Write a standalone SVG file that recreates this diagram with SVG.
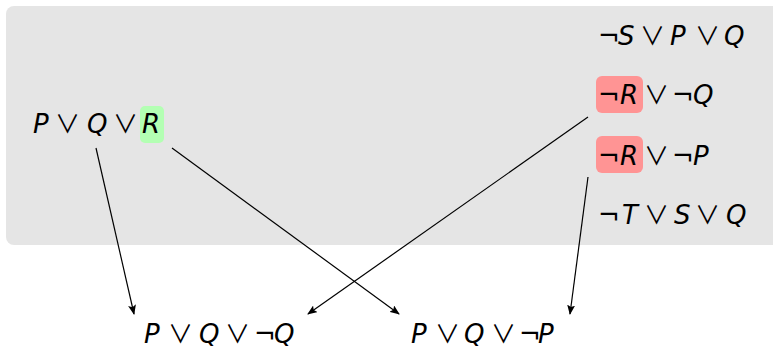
<svg xmlns="http://www.w3.org/2000/svg" width="773" height="349" viewBox="0 0 773 349">
<style>
text{font-family:"DejaVu Sans","Liberation Sans",sans-serif;font-size:26px;fill:#000}
.v{font-style:italic}
.o{font-family:"Noto Sans CJK JP","DejaVu Sans",sans-serif;font-size:25px}
.edge{stroke:#000;stroke-width:1.2;fill:none;marker-end:url(#ah)}
</style>
<defs>
<marker id="ah" markerWidth="10" markerHeight="8" refX="9" refY="4" orient="auto" markerUnits="userSpaceOnUse">
<path d="M0,0 L10,4 L0,8 L2,4 Z" fill="#000"/>
</marker>
</defs>
<rect x="6" y="6" width="790" height="239" rx="8" fill="#e5e5e5"/>
<g id="c1">
<rect x="140" y="106" width="24" height="37" rx="5" fill="#b3ffb3"/>
<text y="133"><tspan class="v" x="33">P</tspan><tspan class="o" x="55">∨</tspan><tspan class="v" x="87">Q</tspan><tspan class="o" x="113">∨</tspan><tspan class="v" x="142">R</tspan></text>
</g>
<g id="c2">
<text y="45"><tspan x="598">¬</tspan><tspan class="v" x="618">S</tspan><tspan class="o" x="640">∨</tspan><tspan class="v" x="670">P</tspan><tspan class="o" x="695">∨</tspan><tspan class="v" x="724">Q</tspan></text>
</g>
<g id="c3">
<rect x="596" y="76" width="47" height="37" rx="6" fill="#ff9494"/>
<text y="104"><tspan x="598">¬</tspan><tspan class="v" x="620">R</tspan><tspan class="o" x="644">∨</tspan><tspan x="672">¬</tspan><tspan class="v" x="693">Q</tspan></text>
</g>
<g id="c4">
<rect x="596" y="136" width="47" height="37" rx="6" fill="#ff9494"/>
<text y="165"><tspan x="598">¬</tspan><tspan class="v" x="620">R</tspan><tspan class="o" x="644">∨</tspan><tspan x="672">¬</tspan><tspan class="v" x="693">P</tspan></text>
</g>
<g id="c5">
<text y="224"><tspan x="598">¬</tspan><tspan class="v" x="622">T</tspan><tspan class="o" x="644">∨</tspan><tspan class="v" x="674">S</tspan><tspan class="o" x="695">∨</tspan><tspan class="v" x="726">Q</tspan></text>
</g>
<g id="r1">
<text y="343"><tspan class="v" x="144">P</tspan><tspan class="o" x="168">∨</tspan><tspan class="v" x="199">Q</tspan><tspan class="o" x="225">∨</tspan><tspan x="254">¬</tspan><tspan class="v" x="274">Q</tspan></text>
</g>
<g id="r2">
<text y="343"><tspan class="v" x="411">P</tspan><tspan class="o" x="435">∨</tspan><tspan class="v" x="464">Q</tspan><tspan class="o" x="491">∨</tspan><tspan x="519">¬</tspan><tspan class="v" x="538">P</tspan></text>
</g>
<g id="edges">
<line class="edge" x1="96" y1="148" x2="134" y2="314"/>
<line class="edge" x1="172" y1="148" x2="399" y2="314"/>
<line class="edge" x1="588" y1="117" x2="308" y2="314"/>
<line class="edge" x1="588" y1="177" x2="570" y2="314"/>
</g>
</svg>
